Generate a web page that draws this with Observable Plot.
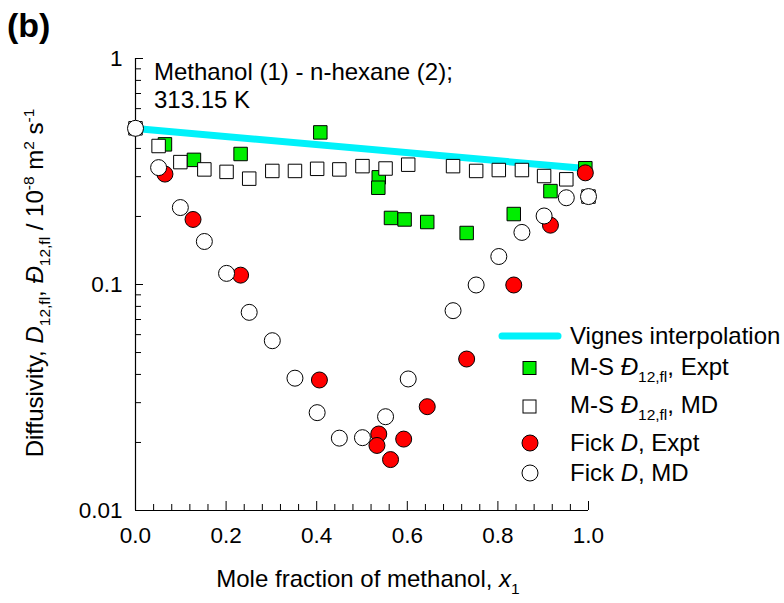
<!DOCTYPE html>
<html><head><meta charset="utf-8">
<script src="https://cdn.jsdelivr.net/npm/d3@7"></script>
<script src="https://cdn.jsdelivr.net/npm/@observablehq/plot@0.6"></script>
<style>
body{margin:0;background:#fff}
#chart{position:relative;width:784px;height:603px}
svg text{font-family:"Liberation Sans",Arial,sans-serif}
</style>
</head><body><div id="chart"></div>
<script>
// ---- data ----
const vignesX = [0, 1];
const vignesY = [0.49, 0.325];

const msExptX = [0.065,0.129,0.232,0.408,0.537,0.536,0.564,0.594,0.644,0.731,0.835,0.916,0.993];
const msExptY = [0.417,0.356,0.378,0.471,0.298,0.268,0.197,0.194,0.189,0.169,0.205,0.259,0.327];

const msMdX = [0,0.051,0.099,0.152,0.201,0.251,0.302,0.352,0.401,0.450,0.501,0.552,0.602,0.701,0.752,0.802,0.853,0.902,0.951,1.0];
const msMdY = [0.491,0.410,0.348,0.323,0.315,0.294,0.318,0.318,0.325,0.323,0.334,0.326,0.339,0.334,0.318,0.321,0.321,0.302,0.292,0.245];

const fickExptX = [0.065,0.127,0.232,0.406,0.537,0.533,0.563,0.592,0.644,0.731,0.835,0.916,0.993];
const fickExptY = [0.308,0.194,0.110,0.0378,0.0218,0.0194,0.0168,0.0207,0.0288,0.0468,0.0995,0.183,0.312];

const fickMdX = [0,0.051,0.099,0.152,0.201,0.251,0.302,0.352,0.401,0.450,0.501,0.552,0.602,0.701,0.752,0.802,0.853,0.902,0.951,1.0];
const fickMdY = [0.491,0.329,0.219,0.155,0.112,0.0753,0.0564,0.0385,0.0271,0.0209,0.0210,0.0260,0.0382,0.0766,0.0995,0.133,0.170,0.201,0.242,0.245];

const yMajor = [0.01, 0.1, 1];
const yMinor = [0.02,0.03,0.04,0.05,0.06,0.07,0.08,0.09,0.2,0.3,0.4,0.5,0.6,0.7,0.8,0.9];
const xMajor = [0, 0.2, 0.4, 0.6, 0.8, 1.0];
const xMinor = [0.04,0.08,0.12,0.16,0.24,0.28,0.32,0.36,0.44,0.48,0.52,0.56,0.64,0.68,0.72,0.76,0.84,0.88,0.92,0.96];

// ---- layout ----
const W = 784, H = 603;
const mL = 135, mR = 196, mT = 58, mB = 93;
const plotW = W - mL - mR, plotH = H - mT - mB;
const FONT = 24, TICKFONT = 22.5, SMALL = 15.5;

const tbl = (xs, ys) => xs.map((x, i) => ({x, y: ys[i]}));

const svg = Plot.plot({
  width: W, height: H,
  marginLeft: mL, marginRight: mR, marginTop: mT, marginBottom: mB,
  style: {fontFamily: '"Liberation Sans", Arial, sans-serif', fontSize: TICKFONT + "px", background: "#fff", color: "#000"},
  x: {domain: [0, 1]},
  y: {type: "log", domain: [0.01, 1]},
  marks: [
    // axis lines
    Plot.ruleX([0], {y1: 1, y2: 0.01, stroke: "#000", strokeWidth: 1.2}),
    Plot.ruleY([0.01], {x1: 0, x2: 1, stroke: "#000", strokeWidth: 1.2}),
    // inward ticks
    Plot.ruleY(yMajor, {x1: 0, x2: 1, insetRight: plotW - 8, stroke: "#000"}),
    Plot.ruleY(yMinor, {x1: 0, x2: 1, insetRight: plotW - 6, stroke: "#000"}),
    Plot.ruleX(xMajor, {y1: 1, y2: 0.01, insetTop: plotH - 9, stroke: "#000"}),
    Plot.ruleX(xMinor, {y1: 1, y2: 0.01, insetTop: plotH - 6, stroke: "#000"}),
    // tick labels
    Plot.axisY({ticks: yMajor, tickSize: 0, tickPadding: 13, tickFormat: d => String(d), label: null}),
    Plot.axisX({ticks: xMajor, tickSize: 0, tickPadding: 17, tickFormat: d3.format(".1f"), label: null}),
    // data
    Plot.line(tbl(vignesX, vignesY), {x: "x", y: "y", stroke: "#00f2fa", strokeWidth: 7, strokeLinecap: "round"}),
    Plot.dot(tbl(msExptX, msExptY), {x: "x", y: "y", symbol: "square", r: 7.6, fill: "#00ee00", stroke: "#000", strokeWidth: 1}),
    Plot.dot(tbl(msMdX, msMdY), {x: "x", y: "y", symbol: "square", r: 7.6, fill: "#fff", stroke: "#000", strokeWidth: 1}),
    Plot.dot(tbl(fickExptX, fickExptY), {x: "x", y: "y", symbol: "circle", r: 8, fill: "#ff0000", stroke: "#000", strokeWidth: 1}),
    Plot.dot(tbl(fickMdX, fickMdY), {x: "x", y: "y", symbol: "circle", r: 8, fill: "#fff", stroke: "#000", strokeWidth: 1})
  ]
});

// ---- rich text helpers ----
const S = d3.select(svg);
function rich(parent, parts, attrs) {
  const t = parent.append("text").attr("font-size", FONT).attr("fill", "#000").attr("text-anchor", "start");
  for (const k in attrs) t.attr(k, attrs[k]);
  let shift = 0;
  for (const p of parts) {
    const target = p.sub ? 7 : p.sup ? -9 : 0;
    const ts = t.append("tspan").text(p.t);
    if (target !== shift) { ts.attr("dy", target - shift); shift = target; }
    if (p.sub || p.sup) ts.attr("font-size", SMALL);
    if (p.i) ts.attr("font-style", "italic");
  }
  return t;
}

// panel label
rich(S, [{t: "(b)"}], {x: 7, y: 37, "font-size": 34, "font-weight": "bold"});

// annotation
rich(S, [{t: "Methanol (1) - n-hexane (2);"}], {x: 154, y: 80});
rich(S, [{t: "313.15 K"}], {x: 154, y: 108});

// y label
rich(S, [
  {t: "Diffusivity, "}, {t: "D", i: true}, {t: "12,fl", sub: true}, {t: ", "},
  {t: "Đ", i: true}, {t: "12,fl", sub: true}, {t: " / 10"}, {t: "-8", sup: true},
  {t: " m"}, {t: "2", sup: true}, {t: " s"}, {t: "-1", sup: true}
], {transform: "translate(43,283) rotate(-90)", "text-anchor": "middle"});

// x label
rich(S, [{t: "Mole fraction of methanol, "}, {t: "x", i: true}, {t: "1", sub: true}],
  {x: 368, y: 587, "text-anchor": "middle"});

// legend
const L = S.append("g");
L.append("line").attr("x1", 502).attr("x2", 558).attr("y1", 336).attr("y2", 336)
  .attr("stroke", "#00f2fa").attr("stroke-width", 7).attr("stroke-linecap", "round");
rich(L, [{t: "Vignes interpolation"}], {x: 570, y: 344});
L.append("rect").attr("x", 523).attr("y", 361.5).attr("width", 13).attr("height", 13)
  .attr("fill", "#00ee00").attr("stroke", "#000");
rich(L, [{t: "M-S "}, {t: "Đ", i: true}, {t: "12,fl", sub: true}, {t: ", Expt"}], {x: 570, y: 375});
L.append("rect").attr("x", 523).attr("y", 400).attr("width", 13).attr("height", 13)
  .attr("fill", "#fff").attr("stroke", "#000");
rich(L, [{t: "M-S "}, {t: "Đ", i: true}, {t: "12,fl", sub: true}, {t: ", MD"}], {x: 570, y: 413});
L.append("circle").attr("cx", 530).attr("cy", 443).attr("r", 8).attr("fill", "#ff0000").attr("stroke", "#000");
rich(L, [{t: "Fick "}, {t: "D", i: true}, {t: ", Expt"}], {x: 570, y: 451});
L.append("circle").attr("cx", 530).attr("cy", 473).attr("r", 8).attr("fill", "#fff").attr("stroke", "#000");
rich(L, [{t: "Fick "}, {t: "D", i: true}, {t: ", MD"}], {x: 570, y: 481});

document.getElementById("chart").appendChild(svg);
</script>
</body></html>
